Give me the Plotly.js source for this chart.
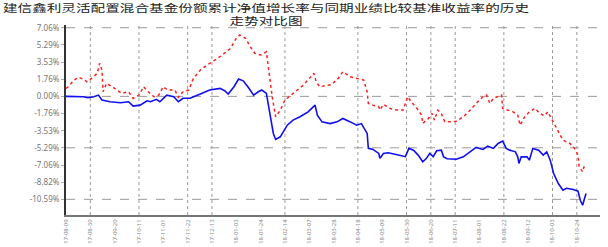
<!DOCTYPE html>
<html>
<head>
<meta charset="utf-8">
<script src="https://cdn.plot.ly/plotly-3.0.1.min.js"></script>
<style>
html,body{margin:0;padding:0;background:#fff;}
#chart{width:608px;height:247px;}
</style>
</head>
<body>
<div id="chart"></div>
<script>
// ---- data (days since start date, value in %) ----
const startDate = "2017-08-09";
const tickStepDays = 21;
const tickCount = 22;

const benchDays = [0,15,19,24,28,31,38,47,54,58,64,70,73,78,81,87,93,97,101,107,116,124,133,137,140,145,149,153,157,162,166,169,173,176,179,181,185,191,196,202,209,215,217,221,228,234,239,245,251,255,260,261,265,270,271,274,278,285,293,296,300,304,308,311,314,317,320,324,326,329,337,343,349,354,360,364,369,373,377,380,383,388,390,391,393,398,400,403,408,412,415,418,421,425,429,432,438,442,444,446,448,449];
const benchVals = [0,-0.04,-0.14,-0.04,0.13,-0.38,-0.55,-0.65,-0.55,-1.0,-0.9,-0.45,-0.55,-0.3,-0.55,0.13,-0.04,-0.55,-0.2,-0.2,0.24,0.65,0.82,0.58,0.24,0.99,1.78,1.6,0.99,0.13,0.47,0.65,0.31,-1.93,-3.81,-4.43,-4.16,-2.96,-2.44,-2.1,-1.59,-0.9,-1.93,-2.62,-2.8,-2.62,-2.27,-2.6,-2.96,-2.8,-3.81,-5.35,-5.46,-5.87,-6.38,-5.87,-5.8,-5.97,-6.2,-5.35,-5.53,-6.04,-6.73,-6.4,-5.87,-6.2,-5.6,-5.53,-6.22,-6.42,-6.46,-6.22,-5.7,-5.25,-5.46,-5.12,-5.35,-4.84,-4.6,-5.35,-5.53,-5.7,-6.22,-6.9,-6.22,-6.22,-6.56,-5.35,-5.53,-6.04,-5.7,-6.56,-7.93,-8.96,-9.65,-9.45,-9.58,-9.75,-10.68,-11.19,-10.34,-9.99];

const fundDays = [0,2,7,11,15,18,22,27,29,31,32,35,40,44,48,54,58,63,67,71,76,80,84,88,94,97,101,106,110,116,124,133,142,147,150,155,159,163,168,173,175,178,181,185,189,196,205,214,216,219,225,229,235,239,245,251,257,260,261,265,270,271,274,280,285,291,295,298,303,307,308,313,316,318,321,324,327,331,337,343,349,354,360,363,366,369,373,376,377,382,386,390,392,396,400,405,409,413,416,419,423,429,435,439,442,443,446,448];
const fundVals = [0.82,0.99,1.68,1.96,1.75,1.5,1.85,2.37,3.4,2.71,0.47,1.34,0.99,0.65,0.31,0.47,-0.21,0.13,0.99,0.47,-0.04,0.13,0.99,0.65,0.65,-0.1,0.47,0.65,1.85,2.71,3.4,4.08,4.94,5.97,6.31,5.97,5.11,4.43,4.25,4.59,2.71,-0.04,-2.1,-1.41,-0.38,0.31,1.16,2.37,1.5,0.99,1.16,1.2,1.85,2.53,2.02,1.85,1.68,0.47,-0.72,-0.9,-1.07,-1.41,-0.82,-1.24,-1.41,-1.41,-0.04,-0.55,-1.24,-1.93,-2.78,-2.27,-1.75,-2.44,-1.41,-1.75,-2.62,-2.62,-2.55,-2.1,-1.41,-0.72,-0.04,0.13,-0.72,-0.2,0.03,0.13,-1.24,-1.41,-1.59,-1.93,-2.96,-2.1,-1.59,-1.24,-1.75,-2.0,-1.59,-2.27,-3.13,-4.5,-4.84,-5.35,-6.04,-7.25,-7.76,-6.9];

const yTickVals = [7.06,5.29,3.53,1.76,0,-1.76,-3.53,-5.29,-7.06,-8.82,-10.59];
const yTickText = ["7.06%","5.29%","3.53%","1.76%","0.00%","-1.76%","-3.53%","-5.29%","-7.06%","-8.82%","-10.59%"];
const yGridVals = [7.06,0,-5.29,-10.59];
const xGridTickIdx = [1,3,5,6,9,12,14,15,16,18,20,21];

const titleText = "建信鑫利灵活配置混合基金份额累计净值增长率与同期业绩比较基准收益率的历史<br>走势对比图";

// ---- helpers ----
const DAY = 86400000;
const t0 = Date.parse(startDate + "T00:00:00Z");
function toDate(d){ return new Date(t0 + d*DAY).toISOString().slice(0,10); }
const tickVals = [];
for (let i=0;i<tickCount;i++) tickVals.push(toDate(i*tickStepDays));

const shapes = [];
xGridTickIdx.forEach(i => shapes.push({type:'line', xref:'x', yref:'paper', x0:tickVals[i], x1:tickVals[i], y0:0, y1:1, line:{color:'#9a9a9a', width:1, dash:'dot'}, layer:'below'}));
yGridVals.forEach(v => shapes.push({type:'line', xref:'paper', yref:'y', x0:0, x1:1, y0:v, y1:v, line:{color:'#9a9a9a', width:1, dash:'dash'}, layer:'below'}));

const traces = [
  {x: fundDays.map(toDate), y: fundVals, type:'scatter', mode:'lines', name:'份额累计净值增长率',
   line:{color:'#ff2020', width:1.5, dash:'dot'}},
  {x: benchDays.map(toDate), y: benchVals, type:'scatter', mode:'lines', name:'业绩比较基准收益率',
   line:{color:'#1010ee', width:1.6}}
];

// title as one two-line annotation (plot area: left 66, top 25, width 534, height 190)
const annotations = [
  {text: titleText, xref:'paper', yref:'paper', x:(266 - 66) / 534, y:1 + (25 - 13.8) / 190,
   xanchor:'center', yanchor:'middle', showarrow:false,
   font:{family:'Noto Sans CJK SC', size:10, color:'#222'}}
];

const layout = {
  width:608, height:247,
  margin:{l:66, r:8, t:25, b:32},
  paper_bgcolor:'#fff', plot_bgcolor:'#fff',
  showlegend:false,
  xaxis:{type:'date', range:[toDate(0), toDate(461)], tickvals:tickVals, tickformat:'%y-%m-%d',
         tickangle:-90, tickfont:{family:'Noto Sans', size:6, color:'#888'},
         showgrid:false, zeroline:false, showline:true, linecolor:'#777', linewidth:2,
         ticks:'', ticklen:0},
  yaxis:{range:[-12.2, 7.34], tickvals:yTickVals, ticktext:yTickText,
         tickfont:{family:'Noto Sans', size:8, color:'#777'},
         showgrid:false, zeroline:false, showline:true, linecolor:'#333', linewidth:2,
         ticks:'outside', ticklen:3, tickcolor:'#aaa'},
  shapes: shapes,
  annotations: annotations
};

Plotly.newPlot('chart', traces, layout, {displayModeBar:false, staticPlot:true}).then(() => {
  // the reference title is horizontally stretched; widen the title text around its centre
  document.querySelectorAll('text.annotation-text').forEach(t => {
    const bb = t.getBBox();
    const cx = bb.x + bb.width / 2;
    const s = Math.min(527 / bb.width, 1.5);
    t.setAttribute('transform', `translate(${cx},0) scale(${s},1) translate(${-cx},0)`);
  });
});
</script>
</body>
</html>
